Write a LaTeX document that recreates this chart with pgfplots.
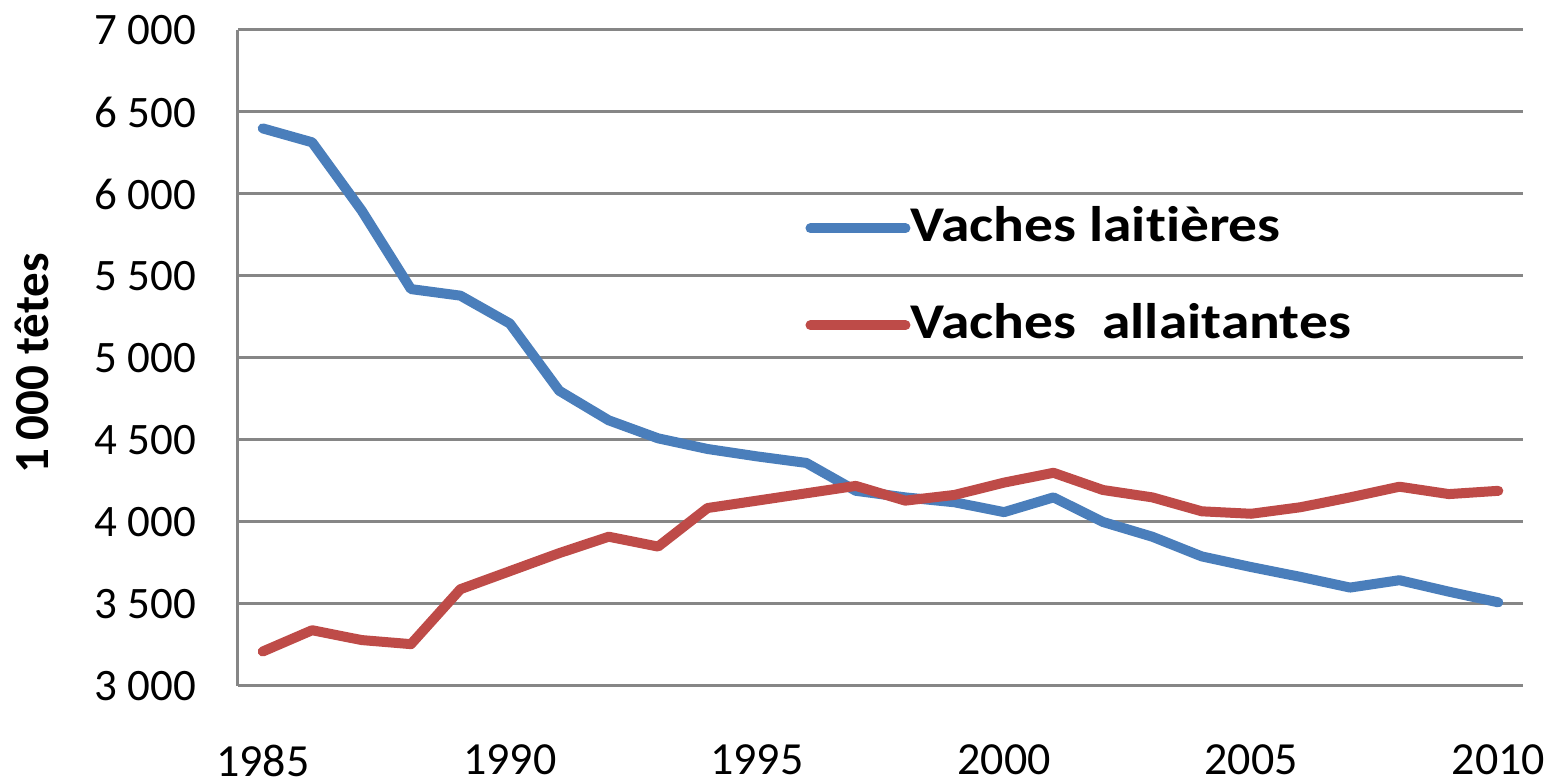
\documentclass[border=0pt]{standalone}
\usepackage{fontspec}
\setmainfont[Ligatures=NoCommon]{Carlito}
\newfontfamily\legfont[FakeStretch=1.15, Ligatures=NoCommon]{Carlito}
\usepackage{pgfplots}
\pgfplotsset{compat=1.18}

\definecolor{laitblue}{HTML}{4A7EBB}
\definecolor{allred}{HTML}{BE4B48}
\definecolor{gridgray}{HTML}{868686}

\begin{document}
\begin{tikzpicture}
\begin{axis}[
    scale only axis,
    width=321.25pt,
    height=164pt,
    xmin=1984.5, xmax=2010.5,
    ymin=3000, ymax=7000,
    xtick={1985,1990,1995,2000,2005,2010},
    xticklabels={1985,1990,1995,2000,2005,2010},
    ytick={3000,3500,4000,4500,5000,5500,6000,6500,7000},
    /pgf/number format/assume math mode=true,
    /pgf/number format/1000 sep={\ },
    tick style={draw=none},
    xticklabel style={anchor=north, yshift=-11.2pt, font=\fontsize{11.5pt}{13pt}\selectfont},
    yticklabel style={anchor=east, xshift=-7pt, font=\fontsize{11.25pt}{13pt}\selectfont},
    axis x line*=bottom,
    axis y line*=left,
    axis line style={gridgray, line width=0.75pt},
    ymajorgrids,
    grid style={gridgray, line width=0.75pt},
    ylabel={\bfseries 1\,000 têtes},
    every axis y label/.style={at={(rel axis cs:0,0.492)}, xshift=-51.5pt,
        rotate=90, anchor=center, font=\fontsize{12.25pt}{14pt}\selectfont},
    legend style={draw=none, fill=none, at={(rel axis cs:0.441,0.734)},
        anchor=north west, inner sep=0pt, row sep=12.75pt,
        nodes={inner sep=0pt, text height=9pt, text depth=2.5pt,
            font=\legfont\bfseries\fontsize{12.5pt}{14pt}\selectfont}},
    legend cell align=left,
    legend image code/.code={\draw[#1, line cap=round] (0pt,0pt) -- (23.75pt,0pt);},
    every axis plot/.append style={line width=2.5pt, line join=round, line cap=round},
]
\coordinate (ll) at (rel axis cs:0,0);
\coordinate (ur) at (rel axis cs:1,1);

% Vaches laitieres
\addplot[laitblue] coordinates {
    (1985,6400) (1986,6315) (1987,5900) (1988,5420) (1989,5380)
    (1990,5210) (1991,4800) (1992,4620) (1993,4510) (1994,4445)
    (1995,4400) (1996,4360) (1997,4190) (1998,4150) (1999,4120)
    (2000,4060) (2001,4150) (2002,4000) (2003,3910) (2004,3790)
    (2005,3725) (2006,3665) (2007,3600) (2008,3645) (2009,3575)
    (2010,3510)
};
\addlegendentry{Vaches laitières}

% Vaches allaitantes
\addplot[allred] coordinates {
    (1985,3210) (1986,3340) (1987,3280) (1988,3255) (1989,3590)
    (1990,3700) (1991,3810) (1992,3910) (1993,3850) (1994,4085)
    (1995,4130) (1996,4175) (1997,4220) (1998,4130) (1999,4165)
    (2000,4240) (2001,4300) (2002,4195) (2003,4150) (2004,4065)
    (2005,4050) (2006,4090) (2007,4150) (2008,4215) (2009,4170)
    (2010,4190)
};
\addlegendentry{Vaches\ \ allaitantes}
\end{axis}
\pgfresetboundingbox
\path (ll) ++(-59.5pt,-24.25pt) rectangle ([shift={(6.25pt,7.5pt)}]ur);
\end{tikzpicture}
\end{document}
